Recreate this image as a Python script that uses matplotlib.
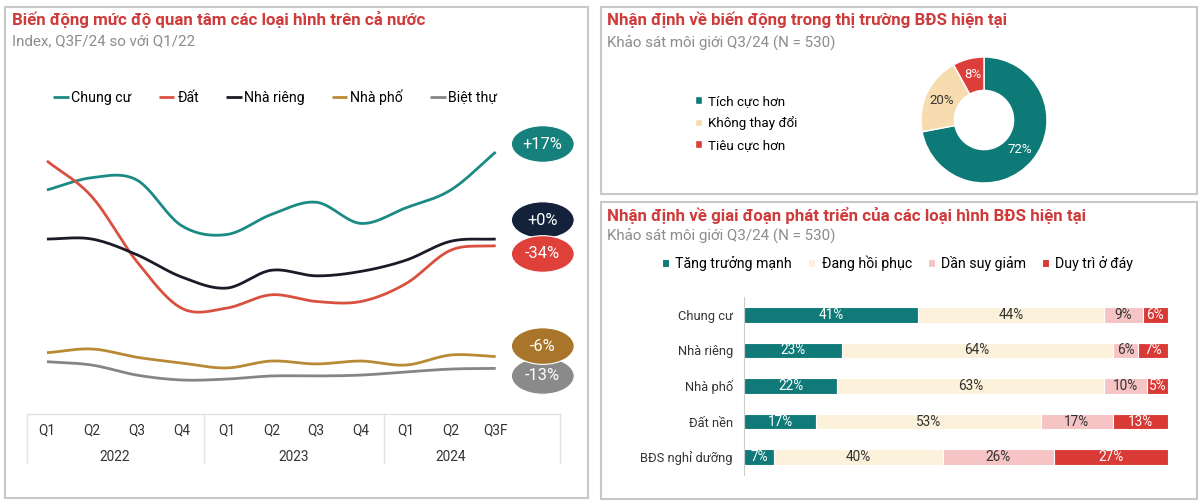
import matplotlib

matplotlib.use("Agg")
import matplotlib.pyplot as plt
import numpy as np
from matplotlib.patches import Ellipse, Rectangle

# ---- data -----------------------------------------------------------------
quarters = ["Q1", "Q2", "Q3", "Q4", "Q1", "Q2", "Q3", "Q4", "Q1", "Q2", "Q3F"]
years = ["2022", "2023", "2024"]
year_quarters = [[0, 1, 2, 3], [4, 5, 6, 7], [8, 9, 10]]

series_names = ["Chung cư", "Đất", "Nhà riêng", "Nhà phố", "Biệt thự"]
chung_cu = [100, 105.5, 104.5, 84, 80, 89, 94.5, 85, 92, 100, 117]
dat = [113, 97, 68, 47, 47, 53, 50, 50, 58, 73, 75]
nha_rieng = [78, 78, 71, 61, 56, 64, 61.5, 63.5, 68.5, 77, 78]
nha_pho = [27, 28.7, 25, 22.4, 20.2, 23.3, 22, 23.3, 21.5, 26, 25.3]
biet_thu = [23, 21.5, 17, 14.8, 15.2, 16.6, 16.6, 17, 18.4, 19.7, 20]
change_labels = ["+17%", "-34%", "+0%", "-6%", "-13%"]

donut_labels = ["Tích cực hơn", "Không thay đổi", "Tiêu cực hơn"]
donut_values = [72, 20, 8]

stage_names = ["Tăng trưởng mạnh", "Đang hồi phục", "Dần suy giảm", "Duy trì ở đáy"]
stage_types = ["Chung cư", "Nhà riêng", "Nhà phố", "Đất nền", "BĐS nghỉ dưỡng"]
tang_truong = [41, 23, 22, 17, 7]
hoi_phuc = [44, 64, 63, 53, 40]
suy_giam = [9, 6, 10, 17, 26]
duy_tri = [6, 7, 5, 13, 27]

# ---- style ----------------------------------------------------------------
plt.rcParams["font.family"] = ["Roboto", "DejaVu Sans"]

TITLE_RED = "#cf3a3a"
SUB_GRAY = "#8c8c8c"
TEXT = "#333333"
BORDER = "#c8c8c8"
line_colors = ["#1b8a84", "#d9503f", "#1a1a28", "#b98a35", "#858585"]
badge_colors = ["#16807c", "#e0403a", "#14213a", "#a8752a", "#8a8a8a"]
donut_colors = ["#0d7a78", "#f6dcae", "#dc3e3a"]
stage_colors = ["#0f7a77", "#fcf1da", "#f6c4c5", "#d93a36"]
stage_text = ["white", TEXT, TEXT, "white"]

W, H = 1200, 503
fig = plt.figure(figsize=(W / 100, H / 100), dpi=100)


def fx(px):
    return px / W


def fy(py):
    return 1 - py / H


def panel(x0, y0, x1, y1):
    fig.patches.append(Rectangle((fx(x0), fy(y1)), fx(x1) - fx(x0), fy(y0) - fy(y1),
                                 transform=fig.transFigure, fill=False,
                                 edgecolor=BORDER, linewidth=1.5))


def heading(x, y, title, sub, dy):
    fig.text(fx(x), fy(y), title, color=TITLE_RED, fontsize=12.2,
             fontweight="bold", va="center")
    fig.text(fx(x), fy(y + dy), sub, color=SUB_GRAY, fontsize=10.9, va="center")


def catmull_rom(xs, ys, n=24):
    p = np.column_stack([xs, ys]).astype(float)
    p = np.vstack([2 * p[0] - p[1], p, 2 * p[-1] - p[-2]])
    out = []
    t = np.linspace(0, 1, n)[:, None]
    for i in range(1, len(p) - 2):
        p0, p1, p2, p3 = p[i - 1], p[i], p[i + 1], p[i + 2]
        seg = 0.5 * ((2 * p1) + (-p0 + p2) * t + (2 * p0 - 5 * p1 + 4 * p2 - p3) * t ** 2
                     + (-p0 + 3 * p1 - 3 * p2 + p3) * t ** 3)
        out.append(seg if i == 1 else seg[1:])
    out = np.vstack(out)
    return out[:, 0], out[:, 1]


panel(5, 7, 588, 498)
panel(601, 7, 1197, 194)
panel(601, 202, 1197, 499)

# ---- left: line chart -----------------------------------------------------
heading(12, 20, "Biến động mức độ quan tâm các loại hình trên cả nước",
        "Index, Q3F/24 so với Q1/22", 21)

ax = fig.add_axes([fx(24.5), fy(413), fx(563) - fx(24.5), fy(140) - fy(413)])
ax.set_xlim(-0.5, 11.5)
ax.set_ylim(0, 122.4)
ax.axis("off")

x = np.arange(len(quarters))
all_series = [chung_cu, dat, nha_rieng, nha_pho, biet_thu]
handles = []
for vals, name, col in zip(all_series, series_names, line_colors):
    sx, sy = catmull_rom(x, vals)
    h, = ax.plot(sx, sy, color=col, linewidth=2, label=name, clip_on=False,
                 solid_capstyle="butt")
    handles.append(h)

# end-of-line badges
badge_y = [120.6, 71.3, 86.5, 30.0, 16.6]
order = [0, 2, 1, 4, 3]
for i in order:
    ax.add_patch(Ellipse((11.05, badge_y[i]), 1.40, 16.4, facecolor=badge_colors[i],
                         edgecolor="white", linewidth=0.8, clip_on=False, zorder=5))
    ax.text(11.05, badge_y[i], change_labels[i], color="white", fontsize=11.8,
            ha="center", va="center", zorder=6)

# category table under the chart
tc = "#e2e2e2"
ax.plot([-0.45, 11.43], [-0.4, -0.4], color=tc, lw=1, clip_on=False)
for bx in [-0.45, 3.5, 7.5, 11.43]:
    ax.plot([bx, bx], [-0.4, -22.4], color=tc, lw=1, clip_on=False)
for i, q in enumerate(quarters):
    ax.text(i, -7.6, q, ha="center", va="center", fontsize=9.8, color=TEXT)
for yr, qs in zip(years, year_quarters):
    ax.text(np.mean(qs), -19.7, yr, ha="center", va="center", fontsize=9.8, color=TEXT)

fig.legend(handles=handles, labels=series_names, ncol=5, loc="center left",
           bbox_to_anchor=(fx(53), fy(97)), frameon=False, fontsize=10.2,
           handlelength=1.1, handletextpad=0.2, columnspacing=1.9,
           borderpad=0, borderaxespad=0)

# ---- right top: donut -----------------------------------------------------
heading(607, 20, "Nhận định về biến động trong thị trường BĐS hiện tại",
        "Khảo sát môi giới Q3/24 (N = 530)", 23)

r_px = 63
dax = fig.add_axes([fx(984 - 70), fy(120 + 70), 140 / W, 140 / H])
wedges, _, autotexts = dax.pie(donut_values, colors=donut_colors, startangle=90,
                               counterclock=False, autopct="%d%%", pctdistance=0.74,
                               wedgeprops=dict(width=0.53, edgecolor="white", linewidth=1))
for t, c in zip(autotexts, ["white", TEXT, "white"]):
    t.set_color(c)
    t.set_fontsize(9.5)
dax.set_xlim(-70 / r_px, 70 / r_px)
dax.set_ylim(-70 / r_px, 70 / r_px)
dax.set_aspect("equal")

fig.legend(wedges, donut_labels, loc="upper left", bbox_to_anchor=(fx(695), fy(95)),
           frameon=False, fontsize=9.6, handlelength=0.5, handleheight=0.5,
           handletextpad=0.5, labelspacing=0.62, borderpad=0, borderaxespad=0)

# ---- right bottom: stacked bars -------------------------------------------
heading(607, 215, "Nhận định về giai đoạn phát triển của các loại hình BĐS hiện tại",
        "Khảo sát môi giới Q3/24 (N = 530)", 21)

bax = fig.add_axes([fx(744), fy(475), fx(1168) - fx(744), fy(297) - fy(475)])
yy = np.arange(len(stage_types))
left = np.zeros(len(stage_types))
bar_handles = []
for vals, name, col, tcol in zip([tang_truong, hoi_phuc, suy_giam, duy_tri],
                                 stage_names, stage_colors, stage_text):
    vals = np.array(vals, dtype=float)
    bars = bax.barh(yy, vals, left=left, height=0.45, color=col, edgecolor="white",
                    linewidth=0.8, label=name)
    bar_handles.append(bars)
    for yi, v, l in zip(yy, vals, left):
        bax.text(l + v / 2, yi, f"{int(v)}%", ha="center", va="center",
                 color=tcol, fontsize=9.8)
    left += vals
bax.set_xlim(0, 100)
bax.set_ylim(4.507, -0.507)
bax.set_yticks(yy, stage_types)
bax.tick_params(axis="y", length=0, pad=8, labelsize=9.3, labelcolor=TEXT)
bax.set_xticks([])
for s in ["top", "right", "bottom"]:
    bax.spines[s].set_visible(False)
bax.spines["left"].set_color("#cccccc")

fig.legend(bar_handles, stage_names, ncol=4, loc="center left",
           bbox_to_anchor=(fx(662), fy(263)), frameon=False, fontsize=10.2,
           handlelength=0.5, handleheight=0.5, handletextpad=0.45, columnspacing=1.12,
           borderpad=0, borderaxespad=0)

fig.savefig("out.png", dpi=100)
